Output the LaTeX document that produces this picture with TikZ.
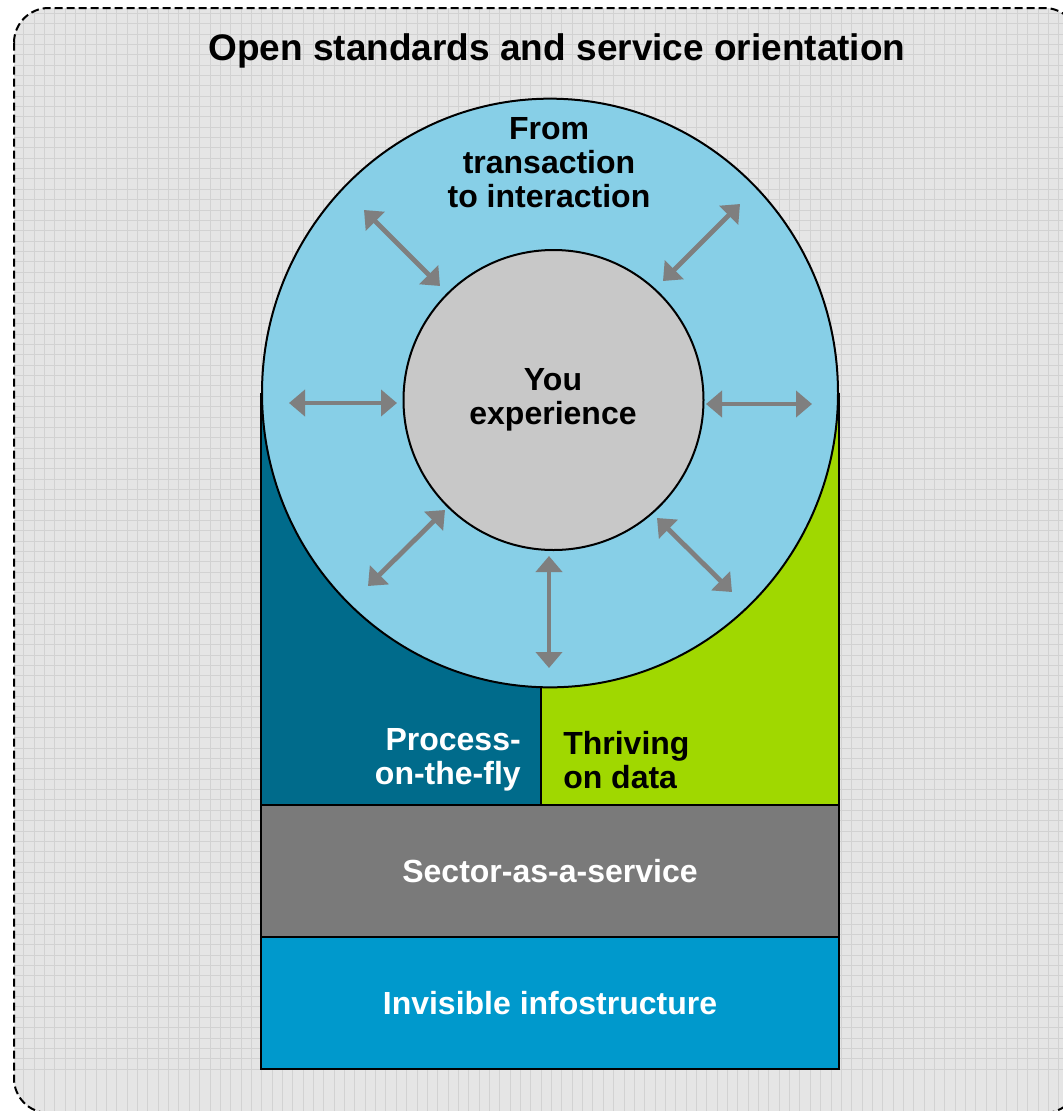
\documentclass[tikz,border=0pt]{standalone}
\usepackage{fontspec}
\setmainfont{Liberation Sans}
\usetikzlibrary{arrows.meta,shapes.geometric}
\definecolor{bgc}{HTML}{E5E5E5}
\definecolor{gridc}{HTML}{D2D2D2}
\definecolor{ringc}{HTML}{87CFE7}
\definecolor{corec}{HTML}{C8C8C8}
\definecolor{tealc}{HTML}{006B8B}
\definecolor{greenc}{HTML}{A0D800}
\definecolor{grayc}{HTML}{7A7A7A}
\definecolor{bluec}{HTML}{0099CC}
\definecolor{arrc}{HTML}{7F7F7F}
\begin{document}
\begin{tikzpicture}[x=0.75pt,y=-0.75pt,
  lbl/.style={font=\fontsize{24}{25.5}\selectfont\bfseries, inner sep=0pt},
  bar/.style={draw, line width=1.5pt, minimum width=433.5pt, minimum height=99pt, inner sep=0pt, text=white, font=\fontsize{24}{25.5}\selectfont\bfseries},
  disc/.style={draw, line width=1.5pt, inner sep=0pt},
  dbl/.style={draw=arrc, line width=3.6pt, {Triangle[length=12pt,width=19.5pt]}-{Triangle[length=12pt,width=19.5pt]}}]
\useasboundingbox (0,0) rectangle (1063,1111);
\fill[white] (0,0) rectangle (1063,1111);
\begin{scope}
  \clip[rounded corners=26pt] (14,8) rectangle (1079,1113);
  \fill[bgc] (0,0) rectangle (1063,1111);
  \foreach \i in {0,...,103} {
    \draw[gridc, line width=0.75pt] ({3+\i*10.35},0) -- ++(0,1111);
    \draw[gridc, line width=0.75pt] (0,{3+\i*10.35}) -- ++(1063,0);
  }
\end{scope}
\draw[black, line width=1.5pt, dash pattern=on 6pt off 3pt, rounded corners=26pt] (14,8) rectangle (1079,1113);

% title
\node[lbl, font=\fontsize{27.75}{30}\selectfont\bfseries] (title) at (557,51) {Open standards and service orientation};

% column halves
\fill[tealc] (261,393) rectangle (541,805);
\fill[greenc] (541,393) rectangle (839,805);
\draw[line width=1.5pt] (261,393) -- (261,805) -- (839,805) -- (839,393);
\draw[line width=1.5pt] (541,680) -- (541,805);

% bars
\node[bar, fill=grayc] (sector) at (550,871) {Sector-as-a-service};
\node[bar, fill=bluec] (infra) at (550,1003) {Invisible infostructure};

% circles
\node[disc, ellipse, fill=ringc, minimum width=432pt, minimum height=441.5pt] (ring) at (550,393) {};
\node[disc, circle, fill=corec, minimum size=225pt] (core) at (553.5,400) {};

% labels
\node[lbl, align=center] (from) at (549,163) {From\\transaction\\to interaction};
\node[lbl, align=center] (you) at (553,400) {You\\experience};
\node[lbl, align=right, anchor=east, text=white] (proc) at (521,760) {Process-\\on-the-fly};
\node[lbl, align=left, anchor=west] (thr) at (563,760) {Thriving\\on data};

% arrows
\coordinate (a1) at (364,210); \coordinate (b1) at (440,286);
\coordinate (a2) at (740,204); \coordinate (b2) at (663,281);
\coordinate (a3) at (289,403); \coordinate (b3) at (397,403);
\coordinate (a4) at (706,404); \coordinate (b4) at (812,404);
\coordinate (a5) at (445,510); \coordinate (b5) at (368,586);
\coordinate (a6) at (657,518); \coordinate (b6) at (732,592);
\coordinate (a7) at (549,556); \coordinate (b7) at (549,668);
\foreach \k in {1,...,7} { \draw[dbl] (a\k) -- (b\k); }
\end{tikzpicture}
\end{document}
